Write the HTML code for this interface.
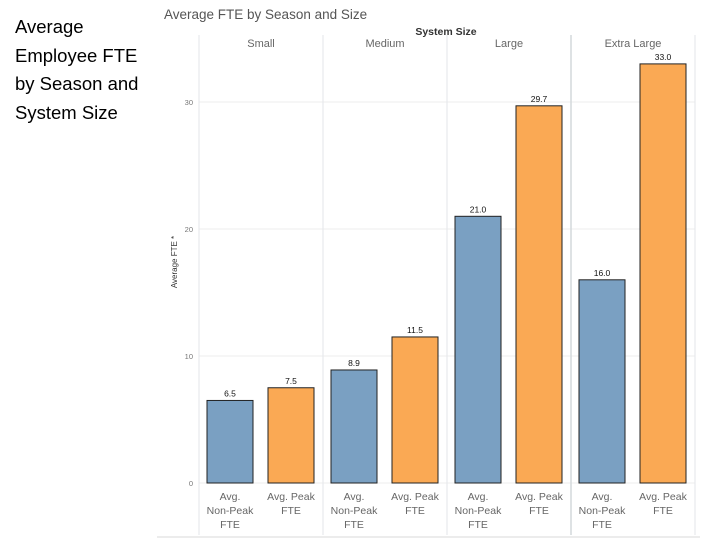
<!DOCTYPE html>
<html><head><meta charset="utf-8"><style>
body{margin:0;width:720px;height:540px;background:#fff;overflow:hidden;position:relative;font-family:"Liberation Sans",sans-serif}
#side{position:absolute;left:15px;top:13px;font-size:18.5px;line-height:28.5px;color:#000}
</style></head><body>
<div id="side">Average<br>Employee FTE<br>by Season and<br>System Size</div>
<svg id="chart" width="720" height="540" style="position:absolute;left:0;top:0"></svg>
<script>
const groups=["Small","Medium","Large","Extra Large"];
const nonPeak=[6.5,8.9,21.0,16.0];
const peak=[7.5,11.5,29.7,33.0];
const yTicks=[0,10,20,30];
const ns="http://www.w3.org/2000/svg";
const svg=document.getElementById('chart');
const x0=199,pw=124,yBase=483,ppu=12.7;
const y=v=>yBase-v*ppu;
function mk(t,a,txt){const e=document.createElementNS(ns,t);for(const k in a)e.setAttribute(k,a[k]);if(txt!==undefined)e.textContent=txt;svg.appendChild(e);return e;}
let e;
e=mk('text',{x:164,y:19,'font-size':13.5,fill:'#555'},'Average FTE by Season and Size');

e=mk('text',{x:446,y:35,'font-size':10.5,'font-weight':'bold',fill:'#333','text-anchor':'middle'},'System Size');

yTicks.forEach(t=>{
 e=mk('line',{x1:x0,x2:x0+pw*4,y1:y(t),y2:y(t),stroke:'#eee','stroke-width':1});
 
 e=mk('text',{x:193,y:y(t)+3,'font-size':7.5,fill:'#777','text-anchor':'end'},String(t));
 
});
e=mk('text',{x:177,y:262,'font-size':8,fill:'#333','text-anchor':'middle',transform:'rotate(-90 177 262)'},'Average FTE *');

for(let i=0;i<=4;i++){
 e=mk('line',{x1:x0+pw*i,x2:x0+pw*i,y1:35,y2:535,stroke:i==3?'#d4d8dc':'#e3e6e9','stroke-width':i==3?1.5:1});
 
}
e=mk('line',{x1:157,x2:700,y1:537,y2:537,stroke:'#e6e6e6','stroke-width':1.5});

groups.forEach((g,i)=>{
 const px=x0+pw*i;
 e=mk('text',{x:px+pw/2,y:47,'font-size':11,fill:'#666','text-anchor':'middle'},g);
 
 [[nonPeak[i],'#7aa0c2',8,'bar-non-peak'],[peak[i],'#faa954',69,'bar-peak']].forEach(([v,c,off,nm],j)=>{
  e=mk('rect',{x:px+off,y:y(v),width:46,height:v*ppu,fill:c,stroke:'#222','stroke-width':1});
  
  e=mk('text',{x:px+off+23,y:y(v)-4,'font-size':8.5,fill:'#111','text-anchor':'middle'},v.toFixed(1));
  
 });
 [['Avg.','Non-Peak','FTE'],['Avg. Peak','FTE']].forEach((lines,j)=>{
  const cx=px+(j?92:31);
  lines.forEach((l,k)=>{
   e=mk('text',{x:cx,y:500+k*14,'font-size':10.5,fill:'#666','text-anchor':'middle'},l);
   
  });
 });
});
</script>
</body></html>
